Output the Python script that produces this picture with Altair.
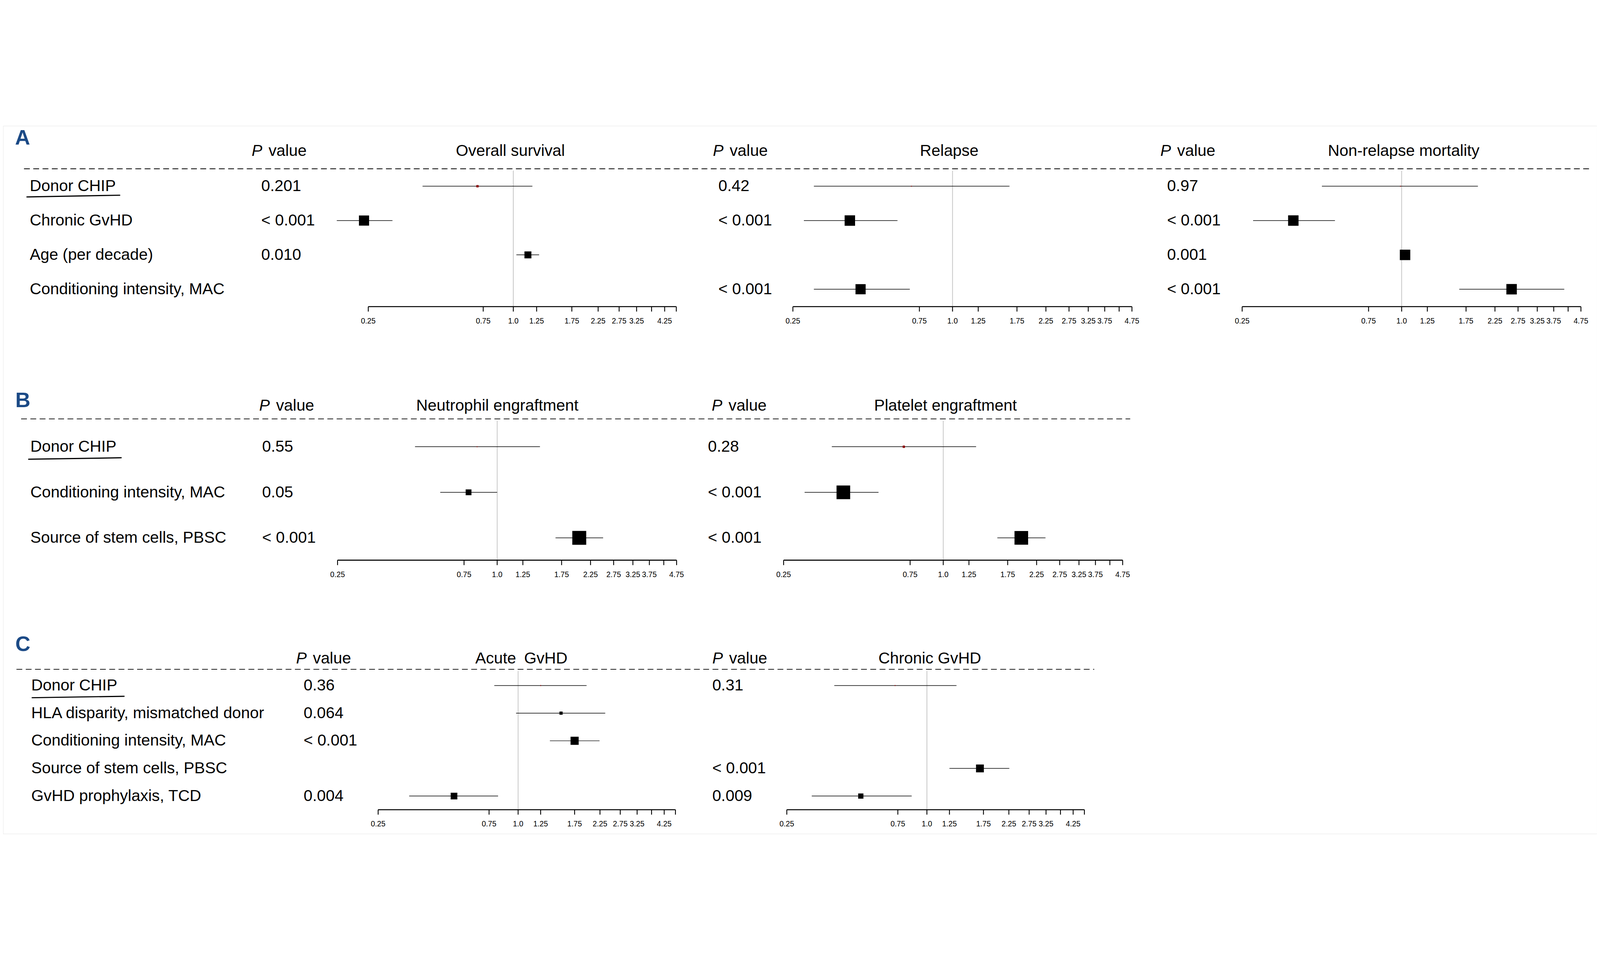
import altair as alt
import pandas as pd

FONT = "Liberation Sans"
W, H = 5495, 2440
FS = 55

# ---------------- data ----------------
TICKS = [0.25, 0.75, 1.0, 1.25, 1.75, 2.25, 2.75, 3.25, 3.75, 4.25, 4.75]
TICK_TEXT = ["0.25", "0.75", "1.0", "1.25", "1.75", "2.25", "2.75", "3.25", "3.75", "4.25", "4.75"]
SHOW_1 = ["0.25", "0.75", "1.0", "1.25", "1.75", "2.25", "2.75", "3.25", "4.25"]
SHOW_2 = ["0.25", "0.75", "1.0", "1.25", "1.75", "2.25", "2.75", "3.25", "3.75", "4.75"]

A_rows = ["Donor CHIP", "Chronic GvHD", "Age (per decade)", "Conditioning intensity, MAC"]
OS_p = ["0.201", "< 0.001", "0.010", ""]
OS_hr = [0.71, 0.24, 1.15, None]
OS_lo = [0.42, 0.185, 1.03, None]
OS_hi = [1.20, 0.315, 1.28, None]
OS_box = [0.16, 0.70, 0.48, None]

REL_p = ["0.42", "< 0.001", "", "< 0.001"]
REL_hr = [0.70, 0.41, None, 0.45]
REL_lo = [0.30, 0.275, None, 0.30]
REL_hi = [1.64, 0.62, None, 0.69]
REL_box = [0.06, 0.72, None, 0.70]

NRM_p = ["0.97", "< 0.001", "0.001", "< 0.001"]
NRM_hr = [0.99, 0.39, 1.03, 2.60]
NRM_lo = [0.50, 0.275, 1.01, 1.65]
NRM_hi = [1.94, 0.56, 1.05, 4.11]
NRM_box = [0.06, 0.72, 0.72, 0.72]

B_rows = ["Donor CHIP", "Conditioning intensity, MAC", "Source of stem cells, PBSC"]
NEU_p = ["0.55", "0.05", "< 0.001"]
NEU_hr = [0.84, 0.78, 2.04]
NEU_lo = [0.49, 0.61, 1.66]
NEU_hi = [1.45, 1.00, 2.51]
NEU_box = [0.06, 0.40, 0.96]

PLT_p = ["0.28", "< 0.001", "< 0.001"]
PLT_hr = [0.71, 0.42, 1.97]
PLT_lo = [0.38, 0.30, 1.60]
PLT_hi = [1.33, 0.57, 2.43]
PLT_box = [0.16, 0.94, 0.94]

C_rows = ["Donor CHIP", "HLA disparity, mismatched donor", "Conditioning intensity, MAC",
          "Source of stem cells, PBSC", "GvHD prophylaxis, TCD"]
AG_p = ["0.36", "0.064", "< 0.001", "", "0.004"]
AG_hr = [1.25, 1.53, 1.75, None, 0.53]
AG_lo = [0.79, 0.98, 1.37, None, 0.34]
AG_hi = [1.97, 2.37, 2.24, None, 0.82]
AG_box = [0.06, 0.22, 0.56, None, 0.46]

CG_p = ["0.31", "", "", "< 0.001", "0.009"]
CG_hr = [0.73, None, None, 1.69, 0.52]
CG_lo = [0.40, None, None, 1.25, 0.32]
CG_hi = [1.34, None, None, 2.26, 0.86]
CG_box = [0.06, None, None, 0.54, 0.36]

# ---------------- layout ----------------
SECTIONS = [
    dict(letter="A", letter_xy=(67, 43), rows=A_rows, rows_px=(208, 563), header_y=86, dash_y=148,
         dash_x=(72, 5475), axis_y=623, label_x=92, underline=(82, 245, 402, 239),
         panels=[
             dict(title="Overall survival", title_x=1749, x_range=(1259, 2321), phead_x=857, p_x=890,
                  p=OS_p, hr=OS_hr, lo=OS_lo, hi=OS_hi, box=OS_box, show=SHOW_1),
             dict(title="Relapse", title_x=3262, x_range=(2723, 3892), phead_x=2447, p_x=2466,
                  p=REL_p, hr=REL_hr, lo=REL_lo, hi=REL_hi, box=REL_box, show=SHOW_2),
             dict(title="Non-relapse mortality", title_x=4829, x_range=(4272, 5440), phead_x=3990, p_x=4013,
                  p=NRM_p, hr=NRM_hr, lo=NRM_lo, hi=NRM_hi, box=NRM_box, show=SHOW_2),
         ]),
    dict(letter="B", letter_xy=(68, 947), rows=B_rows, rows_px=(1106, 1420), header_y=964, dash_y=1010,
         dash_x=(62, 3886), axis_y=1497, label_x=94, underline=(88, 1149, 407, 1144),
         panels=[
             dict(title="Neutrophil engraftment", title_x=1704, x_range=(1153, 2322), phead_x=883, p_x=893,
                  p=NEU_p, hr=NEU_hr, lo=NEU_lo, hi=NEU_hi, box=NEU_box, show=SHOW_2),
             dict(title="Platelet engraftment", title_x=3249, x_range=(2691, 3860), phead_x=2443, p_x=2430,
                  p=PLT_p, hr=PLT_hr, lo=PLT_lo, hi=PLT_hi, box=PLT_box, show=SHOW_2),
         ]),
    dict(letter="C", letter_xy=(68, 1788), rows=C_rows, rows_px=(1929, 2310), header_y=1836, dash_y=1873,
         dash_x=(46, 3762), axis_y=2357, label_x=97, underline=(100, 1971, 417, 1966),
         panels=[
             dict(title="Acute\u2002GvHD", title_x=1787, x_range=(1293, 2318), phead_x=1010, p_x=1036,
                  p=AG_p, hr=AG_hr, lo=AG_lo, hi=AG_hi, box=AG_box, show=SHOW_1),
             dict(title="Chronic GvHD", title_x=3195, x_range=(2702, 3728), phead_x=2445, p_x=2445,
                  p=CG_p, hr=CG_hr, lo=CG_lo, hi=CG_hi, box=CG_box, show=SHOW_1),
         ]),
]

ONE = pd.DataFrame({"k": [0]})


def text(**kw):
    base = dict(font=FONT, fontSize=FS, color="black", baseline="middle")
    base.update(kw)
    return base


def panel(sec, pan, yscale):
    n = len(sec["rows"])
    df = pd.DataFrame({"row": list(range(n)), "label": sec["rows"], "p": pan["p"],
                       "hr": pan["hr"], "lo": pan["lo"], "hi": pan["hi"], "box": pan["box"]})
    est = df.dropna(subset=["hr"])
    pv = df[df["p"] != ""]
    xs = alt.Scale(type="log", domain=[0.25, 4.75], range=list(pan["x_range"]), nice=False, zero=False)
    ax_y = sec["axis_y"]

    ref = alt.Chart(pd.DataFrame({"v": [1.0]})).mark_rule(color="#c3c3c3", strokeWidth=2.5).encode(
        x=alt.X("v:Q", scale=xs, axis=None), y=alt.value(sec["dash_y"] + 6), y2=alt.value(ax_y))
    ci = alt.Chart(est).mark_rule(color="black", strokeWidth=2).encode(
        x=alt.X("lo:Q", scale=xs, axis=None), x2="hi:Q",
        y=alt.Y("row:Q", scale=yscale, axis=None))
    sq = alt.Chart(est).transform_calculate(area="datum.box*datum.box").mark_square(
        filled=True, opacity=1).encode(
        x=alt.X("hr:Q", scale=xs, axis=None),
        y=alt.Y("row:Q", scale=yscale, axis=None),
        size=alt.Size("area:Q", scale=alt.Scale(domain=[0, 1], range=[0, 2500]), legend=None),
        color=alt.condition(alt.datum.label == "Donor CHIP", alt.value("#8b0000"), alt.value("black")))
    axline = alt.Chart(pd.DataFrame({"a": [TICKS[0]], "b": [TICKS[-1]]})).mark_rule(
        color="black", strokeWidth=3.5).encode(
        x=alt.X("a:Q", scale=xs, axis=None), x2="b:Q", y=alt.value(ax_y))
    tdf = pd.DataFrame({"t": TICKS, "s": TICK_TEXT})
    ticks = alt.Chart(tdf).mark_rule(color="black", strokeWidth=3).encode(
        x=alt.X("t:Q", scale=xs, axis=None), y=alt.value(ax_y), y2=alt.value(ax_y + 17))
    tlab = alt.Chart(tdf[tdf["s"].isin(pan["show"])]).mark_text(
        **text(fontSize=26, align="center")).encode(
        x=alt.X("t:Q", scale=xs, axis=None), y=alt.value(ax_y + 50), text="s:N")
    title = alt.Chart(pd.DataFrame({"t": [pan["title"]]})).mark_text(**text(align="center")).encode(
        x=alt.value(pan["title_x"]), y=alt.value(sec["header_y"]), text="t:N")
    ph1 = alt.Chart(pd.DataFrame({"t": ["P"]})).mark_text(**text(align="left", fontStyle="italic")).encode(
        x=alt.value(pan["phead_x"]), y=alt.value(sec["header_y"]), text="t:N")
    ph2 = alt.Chart(pd.DataFrame({"t": ["value"]})).mark_text(**text(align="left")).encode(
        x=alt.value(pan["phead_x"] + 58), y=alt.value(sec["header_y"]), text="t:N")
    pvals = alt.Chart(pv).mark_text(**text(align="left")).encode(
        x=alt.value(pan["p_x"]), y=alt.Y("row:Q", scale=yscale, axis=None), text="p:N")
    return alt.layer(ref, ci, sq, axline, ticks, tlab, title, ph1, ph2, pvals)


def section(sec):
    n = len(sec["rows"])
    yscale = alt.Scale(domain=[0, n - 1], range=list(sec["rows_px"]), nice=False, zero=False)
    lx, ly = sec["letter_xy"]
    letter = alt.Chart(pd.DataFrame({"t": [sec["letter"]]})).mark_text(
        font=FONT, fontSize=72, fontWeight="bold", color="#1b4a86", align="center",
        baseline="middle").encode(x=alt.value(lx), y=alt.value(ly), text="t:N")
    dash = alt.Chart(ONE).mark_rule(color="black", strokeWidth=2.5, strokeDash=[20, 12]).encode(
        x=alt.value(sec["dash_x"][0]), x2=alt.value(sec["dash_x"][1]), y=alt.value(sec["dash_y"]))
    labels = alt.Chart(pd.DataFrame({"row": list(range(n)), "label": sec["rows"]})).mark_text(
        **text(align="left")).encode(
        x=alt.value(sec["label_x"]), y=alt.Y("row:Q", scale=yscale, axis=None), text="label:N")
    ux0, uy0, ux1, uy1 = sec["underline"]
    under = alt.Chart(ONE).mark_rule(color="black", strokeWidth=4, strokeCap="round").encode(
        x=alt.value(ux0), y=alt.value(uy0), x2=alt.value(ux1), y2=alt.value(uy1))
    layers = [letter, dash, labels, under] + [panel(sec, p, yscale) for p in sec["panels"]]
    return alt.layer(*layers).resolve_scale(x="independent")


chart = alt.layer(*[section(s) for s in SECTIONS]).resolve_scale(
    x="independent", y="independent").properties(
    width=W, height=H, padding=0, autosize=alt.AutoSizeParams(type="none"),
    background="white").configure_view(stroke=None).configure(font=FONT)

chart.save("out.html", embed_options={"renderer": "svg", "actions": False})
